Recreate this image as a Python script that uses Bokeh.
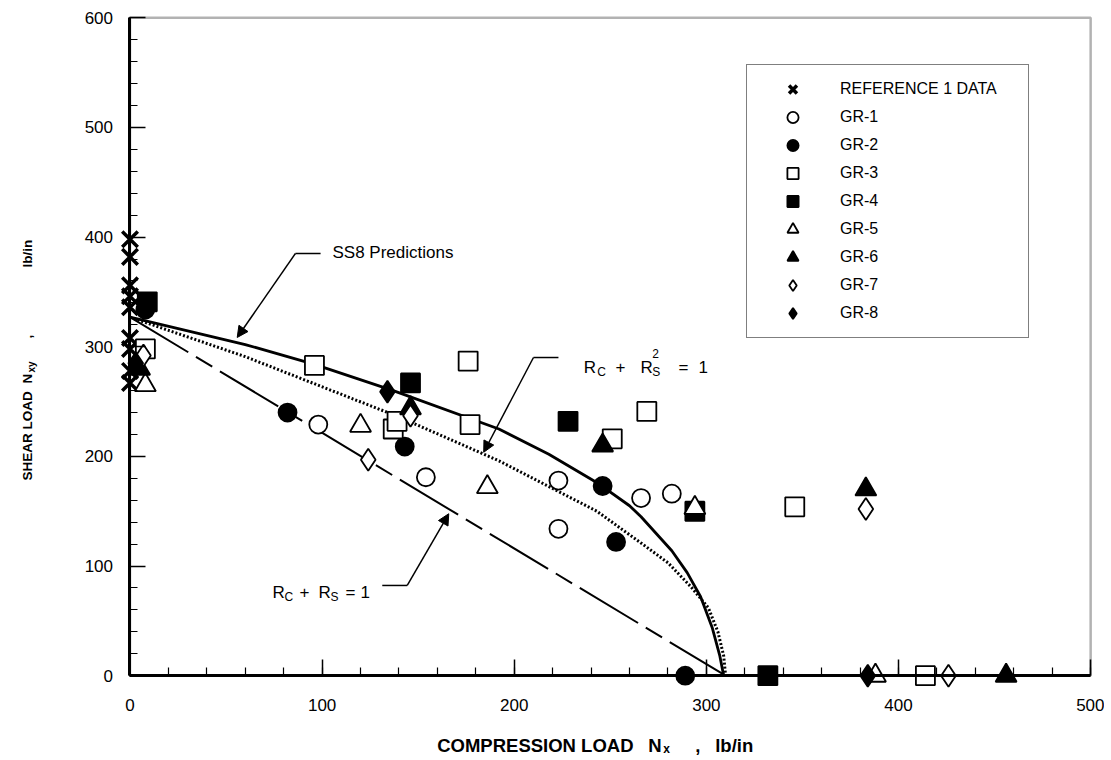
import math
from bokeh.plotting import figure
from bokeh.models import (Range1d, SingleIntervalTicker, Legend, LegendItem, Label,
                          Arrow, NormalHead, BoxAnnotation, ColumnDataSource)
from bokeh.embed import file_html
from bokeh.resources import INLINE

FONT = "Liberation Sans"

# ---------------- data ----------------
ref1_x = [0, 0, 0, 0, 0, 0, 0, 0, 0]
ref1_y = [398, 382, 356, 346, 336, 308, 298, 278, 267]

gr1_x = [98, 154, 223, 223, 266, 282]
gr1_y = [229, 181, 178, 134, 162, 166]
gr2_x = [8, 82, 143, 246, 253, 289]
gr2_y = [334, 240, 209, 173, 122, 0]
gr3_x = [8, 96, 176, 137, 139, 177, 251, 269, 346, 414]
gr3_y = [298, 283, 287, 225, 232, 229, 216, 241, 154, 0]
gr4_x = [9, 146, 228, 294, 332]
gr4_y = [341, 267, 232, 150, 0]
gr5_x = [8, 120, 186, 294, 388]
gr5_y = [265, 228, 172, 153, 0]
gr6_x = [5, 146, 246, 383, 456]
gr6_y = [280, 244, 210, 170, 0]
gr7_x = [7, 124, 146, 383, 426]
gr7_y = [292, 197, 237, 152, 0]
gr8_x = [3, 134, 384]
gr8_y = [285, 259, 0]

series_labels = ["REFERENCE 1 DATA", "GR-1", "GR-2", "GR-3", "GR-4",
                 "GR-5", "GR-6", "GR-7", "GR-8"]

# prediction curves
ss8_x = [0, 60, 96, 137, 192, 218, 244, 260, 266, 282, 290, 297, 303, 307, 309]
ss8_y = [327, 302, 284, 260, 225, 202, 175, 155, 145, 114, 94, 72, 44, 18, 0]
quad_x = [0, 60, 140, 192, 243, 266, 280, 292, 301, 306, 309, 310]
quad_y = [327, 291, 236, 196, 150, 121, 103, 81, 62, 40, 18, 0]
lin_x = [0, 310]
lin_y = [327, 0]

# axes
x_min, x_max, x_step = 0, 500, 100
y_min, y_max, y_step = 0, 600, 100

# annotation anchors (data units): tip, elbow, end of leader; text anchor
ss8_leader = [(55.8, 308.5), (86.1, 385.1), (99.2, 385.1)]
ss8_text = (105.4, 386)
quad_leader = [(184.1, 203.8), (210.0, 290.2), (223.0, 290.2)]
quad_text = (236.2, 281.1)
lin_leader = [(165.9, 147.7), (144.3, 82.3), (131.3, 82.3)]
lin_text = (74.2, 76.2)

# ---------------- figure ----------------
W, H = 1104, 756
p = figure(output_backend="svg", toolbar_location=None,
           x_range=Range1d(-67.40, 507.21), y_range=Range1d(-73.70, 615.83),
           frame_width=W, frame_height=H, min_border=0,
           background_fill_color="white", border_fill_color="white")
p.outline_line_color = None
p.xgrid.visible = False
p.ygrid.visible = False

for ax, lo, hi, st in ((p.xaxis[0], x_min, x_max, x_step), (p.yaxis[0], y_min, y_max, y_step)):
    ax.ticker = SingleIntervalTicker(interval=st, num_minor_ticks=5)
    ax.fixed_location = 0
    ax.bounds = (lo, hi)
    ax.axis_line_width = 3
    ax.axis_line_color = "black"
    ax.major_tick_in = 16
    ax.major_tick_out = 0
    ax.minor_tick_in = 8
    ax.minor_tick_out = 0
    ax.major_tick_line_width = 1.5
    ax.minor_tick_line_width = 1.2
    ax.major_label_text_font = FONT
    ax.major_label_text_font_size = "17px"
    ax.major_label_text_color = "black"
p.xaxis[0].major_label_standoff = 23
p.yaxis[0].major_label_standoff = 17

# plot box
p.add_layout(BoxAnnotation(left=x_min, right=x_max, bottom=y_min, top=y_max,
                           fill_color=None, fill_alpha=0, line_color="black",
                           line_width=2.5))

# curves
p.line(ss8_x, ss8_y, line_color="black", line_width=2.8)
p.line(quad_x, quad_y, line_color="black", line_width=3, line_dash="2 2")
p.line(lin_x, lin_y, line_color="black", line_width=2, line_dash="68 9 19 9")

# markers
xs = [ref1_x, gr1_x, gr2_x, gr3_x, gr4_x, gr5_x, gr6_x, gr7_x, gr8_x]
ys = [ref1_y, gr1_y, gr2_y, gr3_y, gr4_y, gr5_y, gr6_y, gr7_y, gr8_y]
styles = [
    dict(marker="x", size=22, line_width=3.5, fill_color="black"),
    dict(marker="circle", size=18, line_width=1.8, fill_color="white"),
    dict(marker="circle", size=18, line_width=1.8, fill_color="black"),
    dict(marker="square", size=19, line_width=1.8, fill_color="white"),
    dict(marker="square", size=19, line_width=1.8, fill_color="black"),
    dict(marker="triangle", size=21, line_width=1.8, fill_color="white"),
    dict(marker="triangle", size=21, line_width=1.8, fill_color="black"),
    dict(marker="diamond", size=22, line_width=1.8, fill_color="white"),
    dict(marker="diamond", size=22, line_width=1.8, fill_color="black"),
]
items = []
for lab, x, y, st in zip(series_labels, xs, ys, styles):
    src = ColumnDataSource(dict(x=x, y=y))
    r = p.scatter("x", "y", source=src, line_color="black", **st)
    items.append(LegendItem(label=lab, renderers=[r]))

legend = Legend(items=items, location=(746, H - 338), orientation="vertical",
                glyph_width=71, glyph_height=28, spacing=0, padding=10,
                label_standoff=12, label_width=178, label_height=28, margin=0,
                label_text_font=FONT, label_text_font_size="16px",
                label_text_color="black",
                border_line_color="black", border_line_width=1.5,
                background_fill_color="white", background_fill_alpha=1)
p.add_layout(legend)


# ---------------- annotations ----------------
def leader(pts):
    (tx, ty), (ex, ey), (hx, hy) = pts
    p.add_layout(Arrow(x_start=ex, y_start=ey, x_end=tx, y_end=ty,
                       line_color="black", line_width=1.5,
                       end=NormalHead(size=11, fill_color="black", line_color="black",
                                      line_width=1), start=None))
    p.add_layout(Arrow(x_start=ex, y_start=ey, x_end=hx, y_end=hy,
                       line_color="black", line_width=1.5, end=None, start=None))


def pieces(x, y, parts, style="normal", angle=0.0, baseline="alphabetic"):
    for text, dx, dy, size in parts:
        p.add_layout(Label(x=x, y=y, x_offset=dx, y_offset=dy, text=text,
                           text_font=FONT, text_font_size=f"{size}px",
                           text_font_style=style, text_color="black",
                           text_align="left", text_baseline=baseline, angle=angle))


leader(ss8_leader)
leader(quad_leader)
leader(lin_leader)

pieces(ss8_text[0], ss8_text[1], [("SS8  Predictions", 0, 0, 17)], baseline="middle")
pieces(quad_text[0], quad_text[1], [
    ("R", 0, 0, 17), ("C", 13.4, -5, 12), ("+", 31.7, 0, 17), ("R", 56.7, 0, 17),
    ("S", 68.4, -5, 12), ("2", 68.4, 14, 12), ("=", 94.7, 0, 17), ("1", 114.7, 0, 17)])
pieces(lin_text[0], lin_text[1], [
    ("R", 0, 0, 17), ("C", 12, -5, 12), ("+", 27, 0, 17), ("R", 46, 0, 17),
    ("S", 58, -5, 12), ("=", 73, 0, 17), ("1", 88, 0, 17)])

# axis titles
pieces(159.9, -63.3, [
    ("COMPRESSION LOAD", 0, 0, 18.5), ("N", 211, 0, 18.5), ("x", 226, -4, 12),
    (",", 258, 0, 18.5), ("lb/in", 278, 0, 18.5)], style="bold")
pieces(-53.5, 178, [
    ("SHEAR LOAD", 0, 0, 13.5), ("N", 0, 97, 13.5), ("xy", 4, 108, 10),
    (",", 0, 142, 13.5), ("lb/in", 0, 213, 13.5)], style="bold", angle=math.pi / 2)

open("out.html", "w").write(file_html(p, INLINE))
